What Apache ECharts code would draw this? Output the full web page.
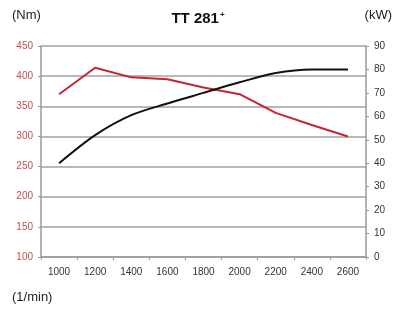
<!DOCTYPE html>
<html lang="en">
<head>
    <meta charset="UTF-8">
    <title>TT 281+</title>
    <style>
        html, body { margin: 0; padding: 0; background: #fff; }
        #main { width: 396px; height: 313px; }
    </style>
</head>
<body>
    <div id="main"></div>
    <script src="https://cdn.jsdelivr.net/npm/echarts@6/dist/echarts.min.js"></script>
    <script>
        // engine speed (1/min)
        const rpm = ['1000', '1200', '1400', '1600', '1800', '2000', '2200', '2400', '2600'];
        // torque, Nm (left axis)
        const torque = [370, 414, 398, 395, 381, 370, 339, 319, 300];
        // power, kW (right axis)
        const power = [40, 52, 60.5, 65.5, 70, 74.5, 78.5, 80, 80];

        const font = 'Liberation Sans, Arial, sans-serif';
        const chart = echarts.init(document.getElementById('main'));

        chart.setOption({
            animation: false,
            textStyle: { fontFamily: font },
            title: {
                text: '{a|TT 281}{b|+}',
                left: 'center',
                top: 6,
                textStyle: {
                    rich: {
                        a: { fontFamily: font, fontSize: 15, fontWeight: 'bold', color: '#111' },
                        b: { fontFamily: font, fontSize: 8, fontWeight: 'bold', color: '#111', verticalAlign: 'top', padding: [0, 0, 8, 1] }
                    }
                }
            },
            graphic: [
                { type: 'text', left: 12, top: 9, style: { text: '(Nm)', font: '13px ' + font, fill: '#222' } },
                { type: 'text', right: 4, top: 9, style: { text: '(kW)', font: '13px ' + font, fill: '#222' } },
                { type: 'text', left: 12, top: 291, style: { text: '(1/min)', font: '13px ' + font, fill: '#222' } }
            ],
            grid: { left: 41, right: 30, top: 46, bottom: 56, containLabel: false },
            xAxis: {
                type: 'category',
                data: rpm,
                boundaryGap: true,
                axisLine: { lineStyle: { color: '#999', width: 1.5 } },
                axisTick: { show: true, length: 3, inside: false, lineStyle: { color: '#999' } },
                axisLabel: { color: '#333', fontSize: 10, margin: 10 }
            },
            yAxis: [
                {
                    type: 'value',
                    min: 100,
                    max: 450,
                    interval: 50,
                    axisLine: { show: true, lineStyle: { color: '#999', width: 1.5 } },
                    axisTick: { show: true, length: 3, lineStyle: { color: '#999' } },
                    axisLabel: { color: '#c0504d', fontSize: 10, margin: 8 },
                    splitLine: { lineStyle: { color: '#a0a0a0', width: 1.5 } }
                },
                {
                    type: 'value',
                    min: 0,
                    max: 90,
                    interval: 10,
                    position: 'right',
                    axisLine: { show: true, lineStyle: { color: '#999', width: 1.5 } },
                    axisTick: { show: true, length: 3, lineStyle: { color: '#999' } },
                    axisLabel: { color: '#333', fontSize: 10, margin: 8 },
                    splitLine: { show: false }
                }
            ],
            series: [
                {
                    name: 'Nm',
                    type: 'line',
                    data: torque,
                    yAxisIndex: 0,
                    symbol: 'none',
                    lineStyle: { color: '#c4262e', width: 2 },
                    itemStyle: { color: '#c4262e' }
                },
                {
                    name: 'kW',
                    type: 'line',
                    data: power,
                    yAxisIndex: 1,
                    smooth: 0.3,
                    symbol: 'none',
                    lineStyle: { color: '#111', width: 2 },
                    itemStyle: { color: '#111' }
                }
            ]
        });
    </script>
</body>
</html>
